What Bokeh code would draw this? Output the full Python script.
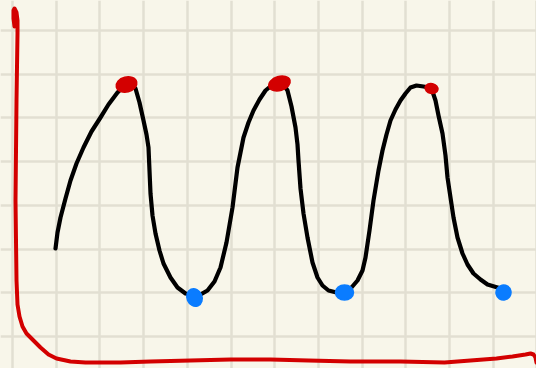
from bokeh.plotting import figure
from bokeh.models import Range1d, Grid, FixedTicker, GlobalInlineStyleSheet
from bokeh.embed import file_html
from bokeh.resources import INLINE

# ---- data (sketch units: x to the right, y upward) ----
wave_x = [55, 57, 60, 65, 70, 76, 83, 91, 100, 108, 117, 122, 126, 131, 135, 139, 143, 146, 148, 149, 150, 152, 155, 159, 163, 170, 177, 185, 194,
          200, 207, 214, 220, 226, 232, 237, 243, 248, 253, 259, 265, 271, 278, 283, 287, 291, 295, 297, 298, 300, 303, 307, 312, 317, 322, 328, 336, 344,
          351, 357, 362, 365, 369, 373, 378, 382, 386, 390, 395, 400, 405, 410, 416, 423, 428, 431, 435, 438, 442, 445, 447, 450, 453, 457, 462, 467, 473, 480, 487, 497, 503]
wave_y = [120, 136, 151, 170, 188, 205, 221, 237, 251, 264, 276, 281, 284, 284, 280, 266, 248, 234, 221, 198, 175, 153, 135, 118, 105, 91, 81, 75, 73,
          74, 78, 87, 101, 126, 161, 201, 231, 246, 258, 269, 278, 283, 285, 284, 278, 262, 241, 224, 208, 180, 155, 131, 106, 91, 83, 78, 76, 76,
          81, 88, 98, 111, 138, 168, 198, 218, 234, 248, 259, 268, 275, 281, 283, 282, 281, 280, 268, 253, 235, 213, 191, 171, 151, 131, 115, 104, 95, 89, 84, 81, 78]

peak_x = [126, 279, 431]
peak_y = [284, 285, 280]
peak_w = [21, 22, 13]
peak_h = [15, 14, 10]
peak_angle = [0.25, 0.3, -0.2]

trough_x = [194, 344, 503]
trough_y = [71, 76, 76]
trough_w = [15, 18, 15]
trough_h = [18, 15, 15]
trough_angle = [0.4, 0.0, 0.2]

axis_x = [14, 13, 13, 14, 16, 17, 17, 16, 15, 16, 17, 19, 22, 26, 33, 40, 48, 56, 70, 85, 120, 150, 190, 230, 270, 308, 350, 400, 444, 470, 496, 512, 525, 530, 533, 535, 536]
axis_y = [342, 350, 358, 360, 356, 348, 335, 268, 168, 88, 64, 52, 42, 35, 28, 21, 14, 10, 7, 6, 6, 7, 8, 9, 9, 8, 7, 7, 6, 8, 10, 12, 14, 15, 14, 11, 6]

grid_x = [12 + 43.7 * k for k in range(13)]
grid_y = [32 + 43.75 * k for k in range(8)]

BG = "#f8f6ea"

p = figure(width=536, height=368, output_backend="svg", toolbar_location=None,
           x_axis_type=None, y_axis_type=None,
           x_range=Range1d(0, 536), y_range=Range1d(0, 368),
           min_border=0, background_fill_color=BG, border_fill_color=BG,
           outline_line_color=None)

p.add_layout(Grid(dimension=0, ticker=FixedTicker(ticks=grid_x),
                  grid_line_color="#e2dfd2", grid_line_width=2.5))
p.add_layout(Grid(dimension=1, ticker=FixedTicker(ticks=grid_y),
                  grid_line_color="#e2dfd2", grid_line_width=2.5))

p.line(axis_x, axis_y, line_color="#d30000", line_width=4, line_join="round", line_cap="round")
p.line(wave_x, wave_y, line_color="black", line_width=4.2, line_join="round", line_cap="round")
p.ellipse(x=peak_x, y=peak_y, width=peak_w, height=peak_h, angle=peak_angle,
          fill_color="#d30000", line_color="#d30000", line_width=1.5)
p.ellipse(x=trough_x, y=trough_y, width=trough_w, height=trough_h, angle=trough_angle,
          fill_color="#0a7cff", line_color="#0a7cff", line_width=1.5)

p.stylesheets = [GlobalInlineStyleSheet(css="body{background:%s;}" % BG)]

open("out.html", "w").write(file_html(p, INLINE))
